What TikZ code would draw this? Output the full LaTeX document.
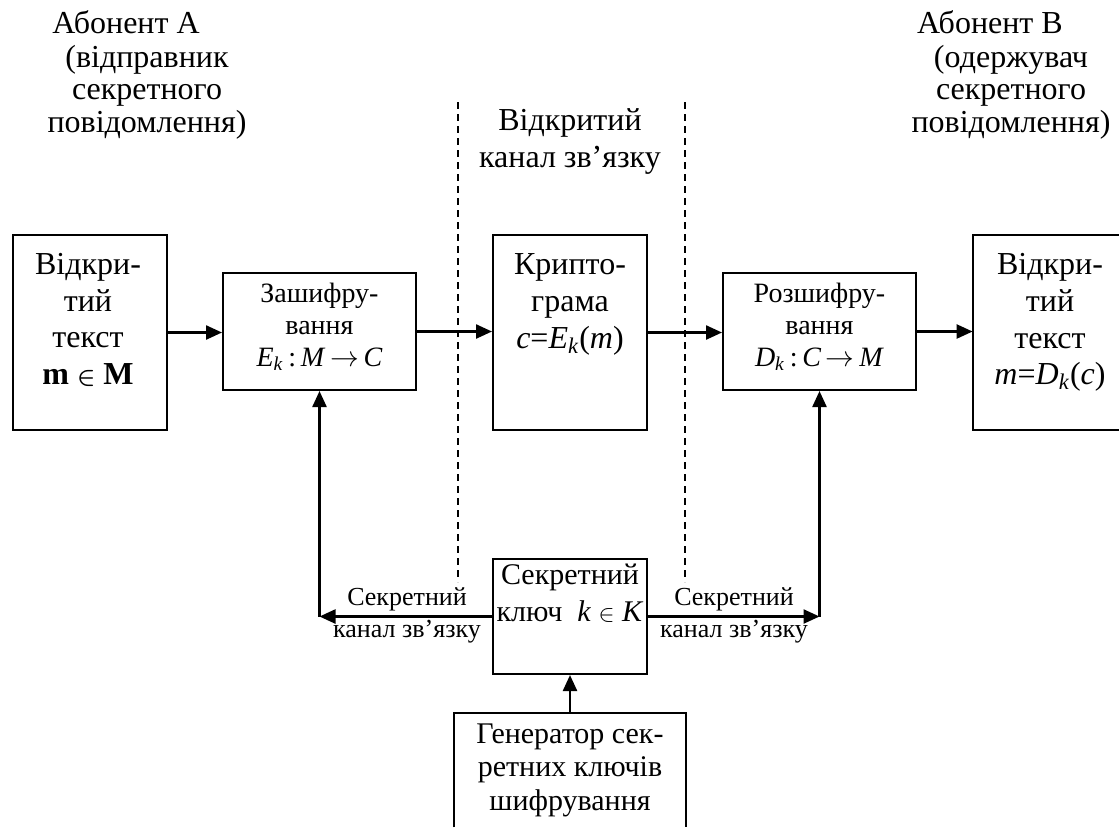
\documentclass[tikz,border=0pt]{standalone}
\usepackage{fontspec}
\setmainfont{Liberation Serif}
\usetikzlibrary{arrows.meta}
% font size helper: size and baseline skip in pt
\newcommand{\fsz}[2]{\fontsize{#1pt}{#2pt}\selectfont}
\newcommand{\Ek}{\textit{E}\textsubscript{\textit{k}}}
\newcommand{\Dk}{\textit{D}\textsubscript{\textit{k}}}
% a membership sign scaled down to the lower-case height of the text
\newcommand{\elem}{{\fsz{12.5}{12.5}$\in$}}
\newcommand{\belem}{{\fsz{12.5}{12.5}\boldmath$\in$}}
\begin{document}
\begin{tikzpicture}[x=0.5pt,y=-0.5pt,
  box/.style={draw,line width=1pt,inner sep=0pt},
  openbox/.style={inner sep=0pt},
  txt/.style={inner sep=0pt,align=center},
  bigtxt/.style={txt,font=\fsz{16}{18.35}},
  midtxt/.style={txt,font=\fsz{14}{16}},
  keytxt/.style={txt,font=\fsz{15}{18.5}},
  gentxt/.style={txt,font=\fsz{15}{16.75}},
  sidetxt/.style={txt,font=\fsz{13}{16}},
  headtxt/.style={txt,font=\fsz{16}{16.25}},
  conn/.style={line width=1.2pt,-{Triangle[length=8pt,width=7pt]}},
  channel/.style={line width=0.8pt,dash pattern=on 3.5pt off 2.5pt}
]
\useasboundingbox (0,0) rectangle (1119,827);

% --- subscriber headings
\node[txt,font=\fsz{16}{16.25},anchor=base] (hdrA) at (126,33) {Абонент А};
\node[headtxt] (subA) at (147,92) {(відправник\\секретного\\повідомлення)};
\node[txt,font=\fsz{16}{16.25},anchor=base] (hdrB) at (990,33) {Абонент В};
\node[headtxt] (subB) at (1011,92) {(одержувач\\секретного\\повідомлення)};

% --- open channel boundaries
\coordinate (dla) at (458,102);
\coordinate (dlb) at (458,582);
\coordinate (dra) at (685,102);
\coordinate (drb) at (685,582);
\draw[channel] (dla) -- (dlb);
\draw[channel] (dra) -- (drb);
\node[txt,font=\fsz{16}{18.5}] (chan) at (570,141) {Відкритий\\канал зв’язку};

% --- main chain of blocks
\node[box,minimum width=77pt,minimum height=97.5pt] (b1) at (90,332.5) {};
\node[box,minimum width=96.5pt,minimum height=58.5pt] (b2) at (319.5,331.5) {};
\node[box,minimum width=77pt,minimum height=97.5pt] (b3) at (570,332.5) {};
\node[box,minimum width=96.5pt,minimum height=58.5pt] (b4) at (819.5,331.5) {};
\node[openbox,minimum width=77pt,minimum height=97.5pt] (b5) at (1050,332.5) {};
\coordinate (rim) at (1119,0);
\draw[line width=1pt] (b5.north west -| rim) -- (b5.north west) -- (b5.south west) -- (b5.south west -| rim);

\node[bigtxt] (t1) at (88,320) {Відкри-\\тий\\текст\\\textbf{m} \belem{} \textbf{M}};
\node[midtxt] (t2) at (319.5,327) {Зашифру-\\вання\\\Ek\,:\,\textit{M}\,$\rightarrow$\,\textit{C}};
\node[bigtxt] (t3) at (570,304.5) {Крипто-\\грама\\\textit{c}=\Ek(\textit{m})};
\node[midtxt] (t4) at (819.5,327) {Розшифру-\\вання\\\Dk\,:\,\textit{C}\,$\rightarrow$\,\textit{M}};
\node[bigtxt] (t5) at (1050,322.5) {Відкри-\\тий\\текст\\\textit{m}=\Dk(\textit{c})};

\draw[conn] (b1.east) -- (b1.east -| b2.west);
\draw[conn] (b2.east) -- (b2.east -| b3.west);
\draw[conn] (b3.east) -- (b3.east -| b4.west);
\draw[conn] (b4.east) -- (b4.east -| b5.west);

% --- secret key and its generator
\node[box,minimum width=77pt,minimum height=57.5pt] (k) at (570,616.5) {};
\node[keytxt] (tk) at (570,593.5) {Секретний\\ключ\enspace \textit{k} \elem{} \textit{K}};
\node[openbox,minimum width=116pt,minimum height=57pt] (g) at (570,770) {};
\draw[line width=1pt] (g.south west) -- (g.north west) -- (g.north east) -- (g.south east);
\node[gentxt] (tg) at (570,770) {Генератор сек-\\ретних ключів\\шифрування};
\draw[conn] (g.north) -- (k.south);

% --- secret channels to both subscribers
\coordinate (cL) at (b2.south |- k.west);
\coordinate (cR) at (b4.south |- k.east);
\draw[conn] (k.west) -- (cL);
\draw[conn] (cL) -- (b2.south);
\draw[conn] (k.east) -- (cR);
\draw[conn] (cR) -- (b4.south);
\node[sidetxt] (sL) at (407,615.5) {Секретний\\канал зв’язку};
\node[sidetxt] (sR) at (734,615.5) {Секретний\\канал зв’язку};
\end{tikzpicture}
\end{document}
